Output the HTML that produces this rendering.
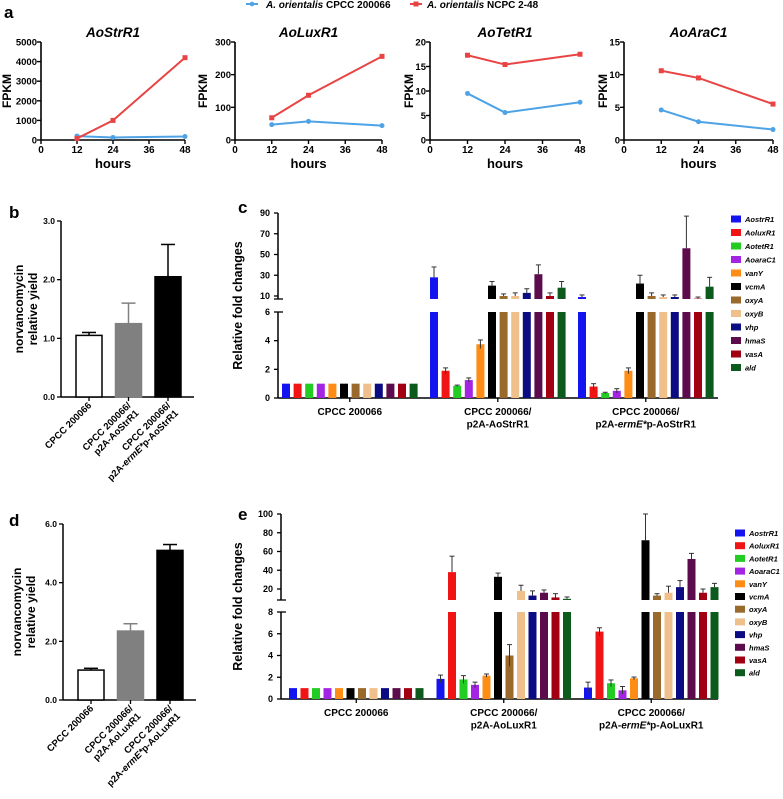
<!DOCTYPE html>
<html><head><meta charset="utf-8"><style>
body{margin:0;background:#fff}
svg{display:block;font-family:"Liberation Sans",Arial,sans-serif}
</style></head><body>
<svg id="fig" width="783" height="799" viewBox="0 0 783 799" xmlns="http://www.w3.org/2000/svg"></svg>
<script>
// ---------- Panel a data ----------
const hours = [12, 24, 48];
const xTicksA = [0, 12, 24, 36, 48];
const genesA = ["AoStrR1", "AoLuxR1", "AoTetR1", "AoAraC1"];
const cpccStr = [200, 130, 180];
const ncpcStr = [80, 1000, 4200];
const cpccLux = [47, 57, 44];
const ncpcLux = [68, 137, 256];
const cpccTet = [9.5, 5.6, 7.7];
const ncpcTet = [17.3, 15.4, 17.5];
const cpccAra = [4.6, 2.8, 1.6];
const ncpcAra = [10.6, 9.5, 5.5];
const yTicksStr = [0, 1000, 2000, 3000, 4000, 5000];
const yTicksLux = [0, 100, 200, 300];
const yTicksTet = [0, 5, 10, 15, 20];
const yTicksAra = [0, 5, 10, 15];
// ---------- Panel b / d data ----------
const yieldB = [1.05, 1.25, 2.05];
const yieldBErr = [0.05, 0.35, 0.55];
const yTicksB = [0, 1, 2, 3];
const yieldD = [1.02, 2.35, 5.1];
const yieldDErr = [0.06, 0.25, 0.2];
const yTicksD = [0, 2, 4, 6];
// ---------- Panel c / e data ----------
const genes = ["AostrR1","AoluxR1","AotetR1","AoaraC1","vanY","vcmA","oxyA","oxyB","vhp","hmaS","vasA","ald"];
const cCtrl = [1,1,1,1,1,1,1,1,1,1,1,1];
const cStr = [28,1.9,0.85,1.25,3.75,20,10,10,13,31,10,18];
const cStrErr = [10,0.2,0.05,0.15,0.3,4,2,3,4,9,3,6];
const cErm = [9,0.8,0.35,0.5,1.9,22,10,9,9,56,7.5,19];
const cErmErr = [2,0.2,0.05,0.15,0.2,8,3,2,2,31,1.5,9];
const eCtrl = [1,1,1,1,1,1,1,1,1,1,1,1];
const eLux = [1.85,38,1.8,1.3,2.15,33,4,18,13,16,11,9.5];
const eLuxErr = [0.35,17,0.35,0.25,0.15,4,1,6,5,3,4,2];
const eErm = [1.05,6.2,1.45,0.8,1.9,72,13,16,22,52,16,22];
const eErmErr = [0.5,0.35,0.3,0.35,0.12,28,2,7,7,6,4,4];
const yTicksCLow = [0,2,4,6];
const yTicksCHigh = [10,30,50,70,90];
const yTicksELow = [0,2,4,6,8];
const yTicksEHigh = [20,40,60,80,100];

const colors = ["#1414f0","#f01414","#22cc22","#a424e4","#ff8c14","#000000","#9a6a2c","#efc08c","#0c0c82","#5c0c4c","#a20012","#0c5a1c"];
const NS = "http://www.w3.org/2000/svg";
const svg = document.getElementById('fig');
function el(tag, attrs, parent, text){
  const e = document.createElementNS(NS, tag);
  for (const k in attrs) e.setAttribute(k, attrs[k]);
  if (text !== undefined) e.textContent = text;
  (parent || svg).appendChild(e);
  return e;
}
function lin(d0,d1,r0,r1){return v=>r0+(v-d0)/(d1-d0)*(r1-r0);}

// ---------- Panel a ----------
let t = el('text',{x:4,y:18,'font-size':17,'font-weight':'bold'},svg,'a');


const lg = el('g',{});


el('line',{x1:246,y1:4,x2:258,y2:4,stroke:'#4ea3e6','stroke-width':2},lg);
el('circle',{cx:252,cy:4,r:2.3,fill:'#4ea3e6'},lg);
t = el('text',{x:266,y:8,'font-size':10,'font-weight':'bold'},lg);
el('tspan',{'font-style':'italic'},t,'A. orientalis');
el('tspan',{},t,' CPCC 200066');
el('line',{x1:410,y1:4,x2:422,y2:4,stroke:'#e84444','stroke-width':2},lg);
el('rect',{x:413.5,y:1.5,width:5,height:5,fill:'#e84444'},lg);
t = el('text',{x:427,y:8,'font-size':10,'font-weight':'bold'},lg);
el('tspan',{'font-style':'italic'},t,'A. orientalis');
el('tspan',{},t,' NCPC 2-48');

const linePlots = [
  {x0:41,x1:185,max:5000,ticks:yTicksStr,b:cpccStr,r:ncpcStr,ly:8},
  {x0:235,x1:382,max:300,ticks:yTicksLux,b:cpccLux,r:ncpcLux,ly:204},
  {x0:430,x1:580,max:20,ticks:yTicksTet,b:cpccTet,r:ncpcTet,ly:410},
  {x0:624,x1:773,max:15,ticks:yTicksAra,b:cpccAra,r:ncpcAra,ly:604}
];
linePlots.forEach((p,pi)=>{
  const g = el('g',{});
  
  
  const yT=42, yB=140;
  const xs = lin(0,48,p.x0,p.x1), ys = lin(0,p.max,yB,yT);
  t = el('text',{x:(p.x0+p.x1)/2,y:37,'font-size':13.5,'font-weight':'bold','font-style':'italic','text-anchor':'middle'},g,genesA[pi]);
  
  
  el('line',{x1:p.x0,y1:yT,x2:p.x0,y2:yB,stroke:'#000','stroke-width':1.6},g);
  el('line',{x1:p.x0,y1:yB,x2:p.x1,y2:yB,stroke:'#000','stroke-width':1.6},g);
  p.ticks.forEach(v=>{
    el('line',{x1:p.x0-4,y1:ys(v),x2:p.x0,y2:ys(v),stroke:'#000','stroke-width':1.4},g);
    el('text',{x:p.x0-4,y:ys(v)+3.5,'font-size':9.5,'font-weight':'bold','text-anchor':'end'},g,String(v));
  });
  xTicksA.forEach(v=>{
    el('line',{x1:xs(v),y1:yB,x2:xs(v),y2:yB+4,stroke:'#000','stroke-width':1.4},g);
    el('text',{x:xs(v),y:yB+13,'font-size':10,'font-weight':'bold','text-anchor':'middle'},g,String(v));
  });
  el('text',{x:(p.x0+p.x1)/2,y:yB+28,'font-size':13,'font-weight':'bold','text-anchor':'middle'},g,'hours');
  const yl = p.ly;
  el('text',{x:yl,y:(yT+yB)/2,'font-size':12,'font-weight':'bold','text-anchor':'middle','dominant-baseline':'middle',transform:`rotate(-90 ${yl} ${(yT+yB)/2})`},g,'FPKM');
  [[p.b,'#4ea3e6','cpcc'],[p.r,'#e84444','ncpc']].forEach(([arr,c,nm])=>{
    const pl = el('polyline',{points:arr.map((v,i)=>xs(hours[i])+','+ys(v)).join(' '),fill:'none',stroke:c,'stroke-width':2},g);
    
    
    arr.forEach((v,i)=>{
      if(nm==='cpcc') el('circle',{cx:xs(hours[i]),cy:ys(v),r:2.5,fill:c},g);
      else el('rect',{x:xs(hours[i])-2.5,y:ys(v)-2.5,width:5,height:5,fill:c},g);
    });
  });
});

// ---------- Panels b / d ----------
function yieldPanel(cfg){
  const g = el('g',{});
  
  
  const ys = lin(0,cfg.max,cfg.yB,cfg.yT);
  el('text',{x:cfg.lx,y:cfg.ly,'font-size':17,'font-weight':'bold'},g,cfg.letter);
  el('line',{x1:cfg.ax,y1:cfg.yT,x2:cfg.ax,y2:cfg.yB,stroke:'#000','stroke-width':1.5},g);
  el('line',{x1:cfg.ax,y1:cfg.yB,x2:cfg.ax+133,y2:cfg.yB,stroke:'#000','stroke-width':1.5},g);
  cfg.ticks.forEach(v=>{
    el('line',{x1:cfg.ax-4,y1:ys(v),x2:cfg.ax,y2:ys(v),stroke:'#000','stroke-width':1.3},g);
    el('text',{x:cfg.ax-6,y:ys(v)+3,'font-size':8.5,'font-weight':'bold','text-anchor':'end'},g,v.toFixed(1));
  });
  const fills=['#fff','#808080','#000'];
  const strokes=['#000','#808080','#000'];
  cfg.vals.forEach((v,i)=>{
    const x = cfg.ax+15+i*39.5, w=26;
    const b = el('rect',{x:x,y:ys(v),width:w,height:cfg.yB-ys(v),fill:fills[i],stroke:strokes[i],'stroke-width':1.5},g);
    
    
    const top = ys(v+cfg.err[i]);
    el('line',{x1:x+w/2,y1:ys(v),x2:x+w/2,y2:top,stroke:strokes[i],'stroke-width':1.5},g);
    el('line',{x1:x+w/2-7,y1:top,x2:x+w/2+7,y2:top,stroke:strokes[i],'stroke-width':1.5},g);
    el('line',{x1:x+w/2,y1:cfg.yB,x2:x+w/2,y2:cfg.yB+4,stroke:'#000','stroke-width':1.3},g);
    const tx = x+w/2+3, ty = cfg.yB+9;
    const lt = el('text',{x:tx,y:ty,'font-size':9.5,'font-weight':'bold','text-anchor':'end',transform:`rotate(-45 ${tx} ${ty})`},g);
    cfg.labels[i].forEach((ln,li)=>{
      const ts = el('tspan',{x:tx,dy:li===0?0:11},lt);
      ln.forEach(seg=>{ el('tspan',seg[1]?{'font-style':'italic'}:{},ts,seg[0]); });
    });
  });
  const cy=(cfg.yT+cfg.yB)/2;
  el('text',{x:cfg.tx1,y:cy,'font-size':12,'font-weight':'bold','text-anchor':'middle','dominant-baseline':'middle',transform:`rotate(-90 ${cfg.tx1} ${cy})`},g,'norvancomycin');
  el('text',{x:cfg.tx2,y:cy,'font-size':12,'font-weight':'bold','text-anchor':'middle','dominant-baseline':'middle',transform:`rotate(-90 ${cfg.tx2} ${cy})`},g,'relative yield');
}
yieldPanel({name:'panel-b-yield',letter:'b',lx:9,ly:218,ax:61,yT:221,yB:397,max:3,ticks:yTicksB,vals:yieldB,err:yieldBErr,tx1:20,tx2:34,
  labels:[[[['CPCC 200066']]],[[['CPCC 200066/']],[['p2A-AoStrR1']]],[[['CPCC 200066/']],[['p2A-'],['ermE*',1],['p-AoStrR1']]]]});
yieldPanel({name:'panel-d-yield',letter:'d',lx:9,ly:526,ax:63,yT:524,yB:700,max:6,ticks:yTicksD,vals:yieldD,err:yieldDErr,tx1:18,tx2:32,
  labels:[[[['CPCC 200066']]],[[['CPCC 200066/']],[['p2A-AoLuxR1']]],[[['CPCC 200066/']],[['p2A-'],['ermE*',1],['p-AoLuxR1']]]]});

// ---------- Panels c / e ----------
function foldPanel(cfg){
  const g = el('g',{});
  
  
  const yLow = lin(0,cfg.lowMax,cfg.y0,cfg.lowTopY);
  const yHigh = lin(cfg.hi0,cfg.hi1,cfg.hi0Y,cfg.hi1Y);
  el('text',{x:238,y:cfg.letterY,'font-size':17,'font-weight':'bold'},g,cfg.letter);
  el('line',{x1:cfg.ax,y1:cfg.hi1Y,x2:cfg.ax,y2:cfg.breakTop,stroke:'#000','stroke-width':1.5},g);
  el('line',{x1:cfg.ax,y1:cfg.lowTopY,x2:cfg.ax,y2:cfg.y0,stroke:'#000','stroke-width':1.5},g);
  el('line',{x1:cfg.ax-4,y1:cfg.breakTop,x2:cfg.ax+5,y2:cfg.breakTop,stroke:'#000','stroke-width':1.3},g);
  el('line',{x1:cfg.ax,y1:cfg.y0,x2:718,y2:cfg.y0,stroke:'#000','stroke-width':1.5},g);
  cfg.lowTicks.forEach(v=>{
    el('line',{x1:cfg.ax-4,y1:yLow(v),x2:cfg.ax+(v===cfg.lowMax?5:0),y2:yLow(v),stroke:'#000','stroke-width':1.3},g);
    el('text',{x:cfg.ax-8,y:yLow(v)+3,'font-size':9,'font-weight':'bold','text-anchor':'end'},g,String(v));
  });
  cfg.highTicks.forEach(v=>{
    el('line',{x1:cfg.ax-4,y1:yHigh(v),x2:cfg.ax,y2:yHigh(v),stroke:'#000','stroke-width':1.3},g);
    el('text',{x:cfg.ax-8,y:yHigh(v)+3,'font-size':9,'font-weight':'bold','text-anchor':'end'},g,String(v));
  });
  const cy=(cfg.hi1Y+cfg.y0)/2;
  el('text',{x:242,y:cy,'font-size':12.5,'font-weight':'bold','text-anchor':'middle',transform:`rotate(-90 242 ${cy})`},g,'Relative fold changes');
  cfg.groups.forEach((grp,gi)=>{
    const gx = cfg.g0 + gi*cfg.gStep;
    grp.vals.forEach((v,i)=>{
      const x = gx + i*cfg.step, w=8, c=colors[i];
      const lowTop = yLow(Math.min(v,cfg.lowMax));
      const b = el('rect',{x:x,y:lowTop,width:w,height:cfg.y0-lowTop,fill:c},g);
      
      
      const e = grp.err ? grp.err[i] : 0;
      if (v > cfg.lowMax){
        const ht = yHigh(v);
        el('rect',{x:x,y:ht,width:w,height:cfg.breakTop-ht,fill:c},g);
        if(e){ const et=yHigh(v+e);
          el('line',{x1:x+w/2,y1:ht,x2:x+w/2,y2:et,stroke:'#333','stroke-width':1},g);
          el('line',{x1:x+w/2-2.5,y1:et,x2:x+w/2+2.5,y2:et,stroke:'#333','stroke-width':1},g);}
      } else if(e){
        const et=yLow(v+e), eb=yLow(Math.max(v-e,0));
        el('line',{x1:x+w/2,y1:eb,x2:x+w/2,y2:et,stroke:'#333','stroke-width':1},g);
        el('line',{x1:x+w/2-2.5,y1:et,x2:x+w/2+2.5,y2:et,stroke:'#333','stroke-width':1},g);
      }
    });
    const cx = gx + (11*cfg.step+8)/2;
    el('line',{x1:cx,y1:cfg.y0,x2:cx,y2:cfg.y0+4,stroke:'#000','stroke-width':1.3},g);
    const lt = el('text',{x:cx,y:cfg.y0+17,'font-size':10,'font-weight':'bold','text-anchor':'middle'},g);
    grp.label.forEach((ln,li)=>{
      const ts = el('tspan',{x:cx,dy:li===0?0:12.5},lt);
      ln.forEach(seg=>{ el('tspan',seg[1]?{'font-style':'italic'}:{},ts,seg[0]); });
    });
  });
  const lgd = el('g',{},g);
  
  
  genes.forEach((gn,i)=>{
    const y = cfg.legY + i*cfg.legStep;
    el('rect',{x:cfg.legX,y:y-3.5,width:10,height:7,fill:colors[i]},lgd);
    el('text',{x:cfg.legX+14,y:y+3,'font-size':7.5,'font-weight':'bold','font-style':'italic'},lgd,gn);
  });
}
foldPanel({name:'panel-c-fold',letter:'c',letterY:213,ax:278,y0:398,lowMax:6,lowTopY:312,hi0:10,hi1:90,hi0Y:296,hi1Y:213,breakTop:299,
  lowTicks:yTicksCLow,highTicks:yTicksCHigh,g0:282,gStep:148,step:11.6,legX:731,legY:219,legStep:13.5,
  groups:[{vals:cCtrl,label:[[['CPCC 200066']]]},
          {vals:cStr,err:cStrErr,label:[[['CPCC 200066/']],[['p2A-AoStrR1']]]},
          {vals:cErm,err:cErmErr,label:[[['CPCC 200066/']],[['p2A-'],['ermE*',1],['p-AoStrR1']]]}]});
foldPanel({name:'panel-e-fold',letter:'e',letterY:520,ax:281,y0:699,lowMax:8,lowTopY:612,hi0:20,hi1:100,hi0Y:589,hi1Y:514,breakTop:600,
  lowTicks:yTicksELow,highTicks:yTicksEHigh,g0:289,gStep:147.5,step:11.5,legX:735,legY:533,legStep:12.7,
  groups:[{vals:eCtrl,label:[[['CPCC 200066']]]},
          {vals:eLux,err:eLuxErr,label:[[['CPCC 200066/']],[['p2A-AoLuxR1']]]},
          {vals:eErm,err:eErmErr,label:[[['CPCC 200066/']],[['p2A-'],['ermE*',1],['p-AoLuxR1']]]}]});
</script>
</body></html>
